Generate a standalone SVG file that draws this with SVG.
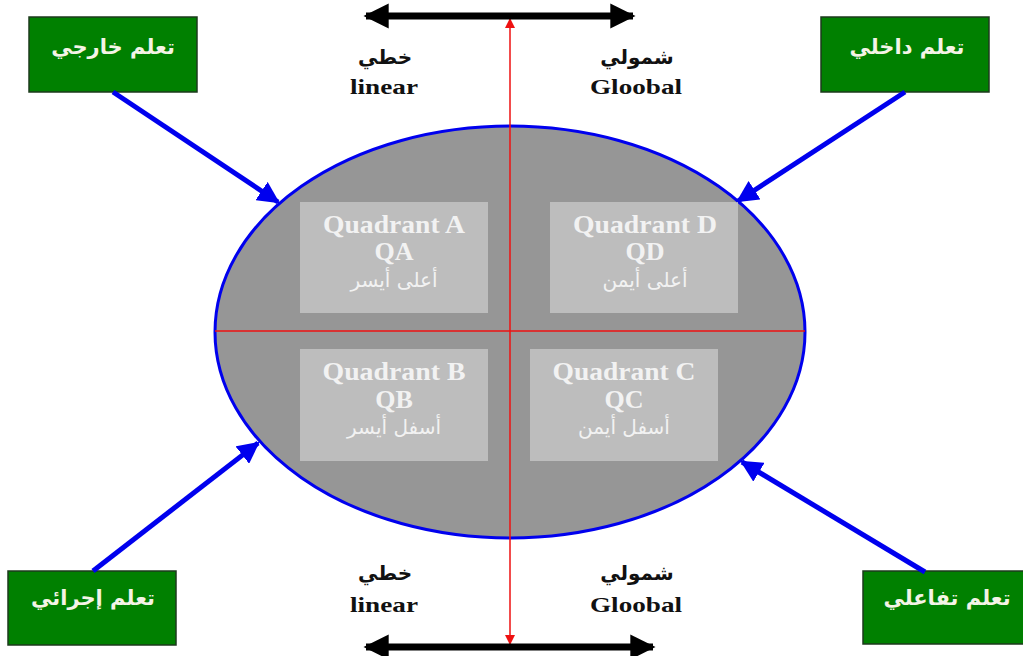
<svg xmlns="http://www.w3.org/2000/svg" width="1023" height="656" viewBox="0 0 1023 656">
<style>
.gbox{fill:#008000;stroke:#1c3a1c;stroke-width:1.5}
.gtxt{font-family:"DejaVu Sans","Liberation Sans",sans-serif;font-weight:bold;font-size:21px;fill:#f4f4e6;text-anchor:middle}
.qbox{fill:#bdbdbd}
.qen{font-family:"Liberation Serif",serif;font-weight:bold;font-size:26px;fill:#f2f2f2;text-anchor:middle}
.qar{font-family:"DejaVu Sans","Liberation Sans",sans-serif;font-size:20px;fill:#f2f2f2;text-anchor:middle}
.lab{font-family:"Liberation Serif",serif;font-weight:bold;font-size:22px;fill:#111;text-anchor:middle}
.labar{font-family:"DejaVu Sans","Liberation Sans",sans-serif;font-weight:bold;font-size:20px;fill:#111;text-anchor:middle}
.blue{stroke:#0000ee;stroke-width:5;fill:none}
.blk{stroke:#000;stroke-width:7;fill:none}
.red{stroke:#ee1111;stroke-width:1.5;fill:none}
</style>
<defs>
<marker id="ab" viewBox="0 0 10 10" refX="9" refY="5" markerWidth="4.4" markerHeight="4.4" orient="auto" markerUnits="strokeWidth"><path d="M0,0 L10,5 L0,10 Z" fill="#0000ee"/></marker>
<marker id="ak" viewBox="0 0 10 10" refX="9" refY="5" markerWidth="3.6" markerHeight="3.6" orient="auto-start-reverse" markerUnits="strokeWidth"><path d="M0,0 L10,5 L0,10 Z" fill="#000"/></marker>
<marker id="ar" viewBox="0 0 10 10" refX="9" refY="5" markerWidth="7" markerHeight="7" orient="auto-start-reverse" markerUnits="strokeWidth"><path d="M0,0 L10,5 L0,10 Z" fill="#ee1111"/></marker>
</defs>
<rect width="1023" height="656" fill="#fff"/>

<g id="ellipse">
<ellipse cx="510" cy="332" rx="295" ry="206" fill="#969696" stroke="#0000ee" stroke-width="3"/>
</g>

<g id="axes">
<line class="red" x1="215" y1="331" x2="805" y2="331"/>
</g>

<g id="quadA">
<rect class="qbox" x="300" y="202" width="188" height="111"/>
<text class="qen" x="394" y="233" textLength="142" lengthAdjust="spacingAndGlyphs">Quadrant A</text>
<text class="qen" x="394" y="260">QA</text>
<text class="qar" x="394" y="287">أعلى أيسر</text>
</g>
<g id="quadD">
<rect class="qbox" x="550" y="202" width="188" height="111"/>
<text class="qen" x="645" y="233" textLength="144" lengthAdjust="spacingAndGlyphs">Quadrant D</text>
<text class="qen" x="645" y="260">QD</text>
<text class="qar" x="645" y="287">أعلى أيمن</text>
</g>
<g id="quadB">
<rect class="qbox" x="300" y="349" width="188" height="112"/>
<text class="qen" x="394" y="380" textLength="143" lengthAdjust="spacingAndGlyphs">Quadrant B</text>
<text class="qen" x="394" y="408">QB</text>
<text class="qar" x="394" y="434">أسفل أيسر</text>
</g>
<g id="quadC">
<rect class="qbox" x="530" y="349" width="188" height="112"/>
<text class="qen" x="624" y="380" textLength="143" lengthAdjust="spacingAndGlyphs">Quadrant C</text>
<text class="qen" x="624" y="408">QC</text>
<text class="qar" x="624" y="434">أسفل أيمن</text>
</g>

<g id="node-external">
<rect class="gbox" x="29" y="17" width="168" height="75"/>
<text class="gtxt" x="113" y="54">تعلم خارجي</text>
</g>
<g id="node-internal">
<rect class="gbox" x="821" y="17" width="168" height="75"/>
<text class="gtxt" x="907" y="54">تعلم داخلي</text>
</g>
<g id="node-procedural">
<rect class="gbox" x="8" y="571" width="168" height="74"/>
<text class="gtxt" x="93" y="605">تعلم إجرائي</text>
</g>
<g id="node-interactive">
<rect class="gbox" x="863" y="571" width="162" height="73"/>
<text class="gtxt" x="947" y="605">تعلم تفاعلي</text>
</g>

<g id="labels">
<text class="labar" x="385" y="64">خطي</text>
<text class="lab" x="384" y="94" textLength="68" lengthAdjust="spacingAndGlyphs">linear</text>
<text class="labar" x="637" y="64">شمولي</text>
<text class="lab" x="636" y="94" textLength="92" lengthAdjust="spacingAndGlyphs">Gloobal</text>
<text class="labar" x="385" y="580">خطي</text>
<text class="lab" x="384" y="612" textLength="68" lengthAdjust="spacingAndGlyphs">linear</text>
<text class="labar" x="637" y="580">شمولي</text>
<text class="lab" x="636" y="612" textLength="92" lengthAdjust="spacingAndGlyphs">Gloobal</text>
</g>

<g id="connectors">
<line class="red" x1="510" y1="330" x2="510" y2="19" marker-end="url(#ar)"/>
<line class="red" x1="510" y1="330" x2="510" y2="644" marker-end="url(#ar)"/>
<line class="blk" x1="366" y1="16" x2="633" y2="16" marker-start="url(#ak)" marker-end="url(#ak)"/>
<line class="blk" x1="366" y1="647" x2="653" y2="647" marker-start="url(#ak)" marker-end="url(#ak)"/>
<line class="blue" x1="113" y1="92" x2="278" y2="202" marker-end="url(#ab)"/>
<line class="blue" x1="905" y1="92" x2="738" y2="201" marker-end="url(#ab)"/>
<line class="blue" x1="93" y1="571" x2="258" y2="443" marker-end="url(#ab)"/>
<line class="blue" x1="925" y1="572" x2="742" y2="462" marker-end="url(#ab)"/>
</g>
</svg>
